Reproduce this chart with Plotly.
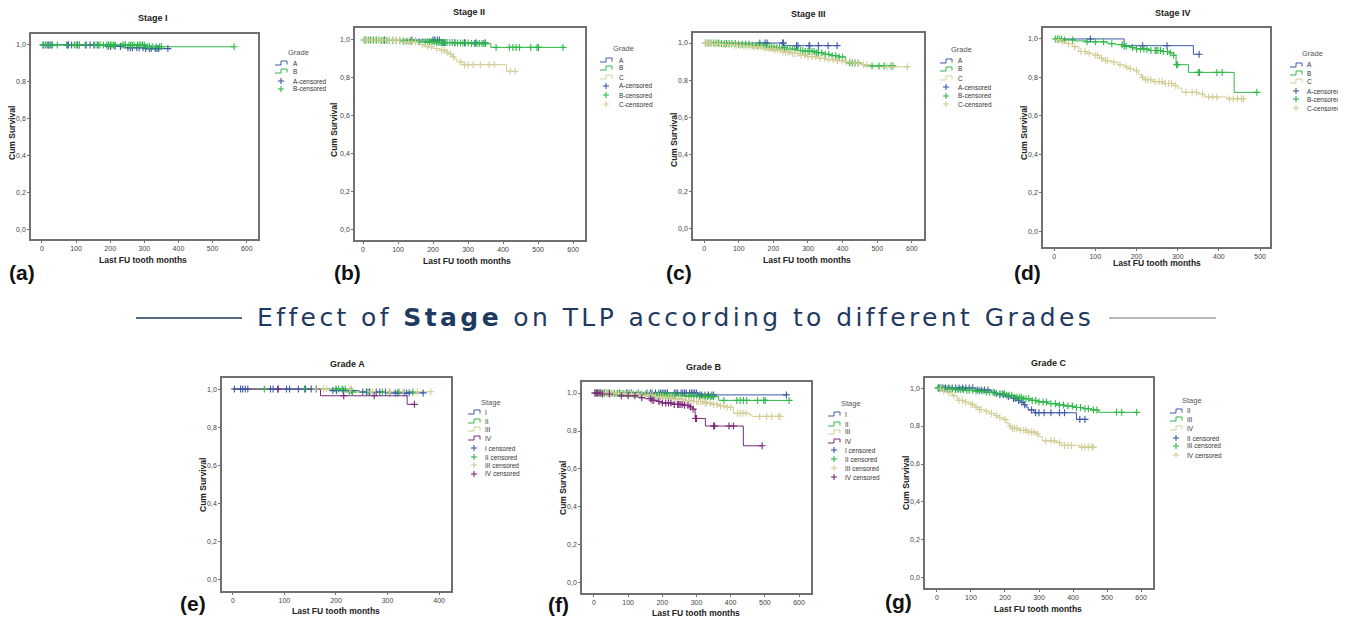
import plotly.graph_objects as go
from bisect import bisect_right

# page is 1346x619; the html body has an 8px margin, so the figure is drawn 8px in
PAGE_W, PAGE_H = 1346, 619
OFF = 8
W, H = PAGE_W - OFF, PAGE_H - OFF

BLUE = "#3E58AC"
GREEN = "#2EB848"
TAN = "#D3CE97"
PURPLE = "#7C287D"

# ---------------- Kaplan-Meier data (months) ----------------
# each curve: event times, survival after each event, last follow-up, censored times
A_I_t = [190, 245, 300]
A_I_s = [0.992, 0.985, 0.980]
A_I_end = 370
A_I_c = [3, 15, 19, 24, 29, 73, 78, 87, 104, 110, 127, 141, 152, 162, 194, 201, 214, 230,
         252, 259, 265, 278, 285, 296, 304, 315, 320, 332, 337, 342, 369]

A_II_t = [225]
A_II_s = [0.985]
A_II_end = 350
A_II_c = [61, 139, 200, 205, 212, 218, 226, 232, 262, 290, 322, 349]

A_III_t = [230]
A_III_s = [0.986]
A_III_end = 385
A_III_c = [161, 176, 182, 227, 229, 267, 271, 303, 305, 330, 358, 384]

A_IV_t = [170, 338]
A_IV_s = [0.965, 0.920]
A_IV_end = 352
A_IV_c = [88, 215, 274, 352]

B_I_t = [305]
B_I_s = [0.990]
B_I_end = 563
B_I_c = [5, 10, 20, 30, 45, 75, 95, 100, 110, 130, 155, 165, 170, 180, 190, 195, 200, 205,
         210, 215, 235, 240, 245, 255, 260, 265, 270, 280, 285, 290, 295, 300, 310, 315,
         325, 335, 345, 350, 563]

B_II_t = [50, 110, 160, 210, 260, 310, 365]
B_II_s = [0.997, 0.994, 0.990, 0.987, 0.984, 0.981, 0.961]
B_II_end = 571
B_II_c = [3, 8, 15, 22, 30, 38, 45, 52, 60, 68, 75, 85, 95, 105, 115, 125, 135, 140, 150,
          160, 170, 178, 185, 190, 195, 200, 205, 210, 215, 220, 225, 230, 235, 240, 248,
          255, 262, 270, 278, 285, 292, 300, 310, 318, 325, 332, 340, 345, 350, 380, 418,
          428, 437, 447, 479, 497, 501, 571]

B_III_t = [50, 100, 140, 180, 210, 240, 265, 290, 320, 345, 365, 390, 408, 455, 462]
B_III_s = [0.998, 0.994, 0.988, 0.980, 0.975, 0.967, 0.960, 0.955, 0.948, 0.940, 0.932,
           0.925, 0.893, 0.885, 0.877]
B_III_end = 545
B_III_c = [5, 12, 20, 28, 35, 42, 50, 58, 65, 72, 80, 90, 100, 110, 120, 130, 140, 150, 158,
           165, 172, 180, 188, 195, 202, 210, 218, 225, 232, 240, 248, 255, 262, 270, 278,
           285, 292, 300, 305, 312, 318, 325, 330, 340, 350, 360, 370, 380, 390, 400, 420,
           428, 436, 445, 485, 505, 520, 540, 545]

B_IV_t = [20, 50, 80, 130, 150, 170, 190, 200, 230, 260, 280, 290, 296, 326, 437]
B_IV_s = [0.995, 0.990, 0.985, 0.975, 0.970, 0.962, 0.955, 0.948, 0.940, 0.935, 0.927,
          0.915, 0.866, 0.826, 0.722]
B_IV_end = 492
B_IV_c = [3, 8, 12, 18, 25, 45, 80, 100, 120, 140, 165, 170, 175, 190, 200, 210, 218, 225,
          235, 245, 248, 252, 258, 265, 275, 282, 290, 297, 300, 350, 353, 395, 408, 492]

C_II_t = [115, 160, 175, 200, 220, 235, 245, 255, 262, 268, 285, 410]
C_II_s = [0.990, 0.975, 0.965, 0.955, 0.945, 0.935, 0.925, 0.912, 0.900, 0.885, 0.870, 0.835]
C_II_end = 435
C_II_c = [5, 10, 18, 25, 35, 45, 55, 65, 75, 85, 95, 105, 120, 130, 140, 150, 170, 185, 195,
          210, 225, 232, 240, 250, 258, 278, 290, 300, 315, 335, 360, 375, 420, 435]

C_III_t = [20, 50, 80, 110, 140, 170, 200, 225, 250, 275, 300, 325, 350, 375, 400, 430, 455, 475]
C_III_s = [0.996, 0.992, 0.988, 0.984, 0.978, 0.970, 0.962, 0.952, 0.944, 0.935, 0.927,
           0.918, 0.911, 0.905, 0.898, 0.891, 0.884, 0.872]
C_III_end = 587
C_III_c = [3, 8, 15, 22, 30, 38, 45, 55, 62, 70, 78, 88, 95, 105, 115, 125, 135, 145, 155,
           165, 175, 185, 192, 198, 205, 212, 220, 228, 235, 242, 248, 255, 262, 270, 280,
           290, 300, 312, 322, 335, 348, 360, 372, 385, 398, 410, 422, 435, 445, 460, 470,
           528, 543, 587]

C_IV_t = [5, 15, 30, 45, 60, 80, 95, 110, 120, 140, 155, 170, 180, 195, 205, 212, 218, 240,
          265, 290, 300, 310, 350, 365, 420]
C_IV_s = [0.995, 0.985, 0.975, 0.960, 0.935, 0.925, 0.915, 0.900, 0.887, 0.878, 0.866,
          0.855, 0.845, 0.835, 0.815, 0.800, 0.788, 0.778, 0.768, 0.758, 0.744, 0.722,
          0.712, 0.698, 0.689]
C_IV_end = 460
C_IV_c = [10, 20, 35, 50, 65, 75, 85, 100, 105, 115, 125, 130, 145, 160, 175, 185, 200, 215,
          222, 228, 235, 245, 255, 262, 270, 278, 285, 295, 320, 335, 345, 360, 375, 385,
          395, 425, 435, 445, 455, 460]

A_I = (A_I_t, A_I_s, A_I_end, A_I_c)
A_II = (A_II_t, A_II_s, A_II_end, A_II_c)
A_III = (A_III_t, A_III_s, A_III_end, A_III_c)
A_IV = (A_IV_t, A_IV_s, A_IV_end, A_IV_c)
B_I = (B_I_t, B_I_s, B_I_end, B_I_c)
B_II = (B_II_t, B_II_s, B_II_end, B_II_c)
B_III = (B_III_t, B_III_s, B_III_end, B_III_c)
B_IV = (B_IV_t, B_IV_s, B_IV_end, B_IV_c)
C_II = (C_II_t, C_II_s, C_II_end, C_II_c)
C_III = (C_III_t, C_III_s, C_III_end, C_III_c)
C_IV = (C_IV_t, C_IV_s, C_IV_end, C_IV_c)

Y_TICKS = [0.0, 0.2, 0.4, 0.6, 0.8, 1.0]
Y_TICK_TEXT = ["0,0", "0,2", "0,4", "0,6", "0,8", "1,0"]
X_TICKS_600 = [0, 100, 200, 300, 400, 500, 600]
X_TICKS_500 = [0, 100, 200, 300, 400, 500]
X_TICKS_400 = [0, 100, 200, 300, 400]

PANELS = [
    dict(title="Stage I", label="(a)", legtitle="Grade",
         curves=[("A", BLUE, A_I), ("B", GREEN, B_I)],
         xticks=X_TICKS_600, frame=(31, 258, 34, 239), xr=(-32, 633), yr=(-0.049, 1.059),
         tpos=(153, 18), ytpos=(12, 133), xtpos=(143, 260), lpos=(22, 272),
         leg=(298, 52, 275, 291, [63, 71, 81, 89])),
    dict(title="Stage II", label="(b)", legtitle="Grade",
         curves=[("A", BLUE, A_II), ("B", GREEN, B_II), ("C", TAN, C_II)],
         xticks=X_TICKS_600, frame=(355, 585, 28, 240), xr=(-23, 634), yr=(-0.053, 1.063),
         tpos=(469, 12), ytpos=(334, 130), xtpos=(467, 261), lpos=(347, 272),
         leg=(623, 48, 600, 617, [60, 68, 77, 86, 95, 104])),
    dict(title="Stage III", label="(c)", legtitle="Grade",
         curves=[("A", BLUE, A_III), ("B", GREEN, B_III), ("C", TAN, C_III)],
         xticks=X_TICKS_600, frame=(693, 924, 33, 239), xr=(-32, 635), yr=(-0.054, 1.054),
         tpos=(809, 14), ytpos=(674, 140), xtpos=(807, 260), lpos=(679, 272),
         leg=(962, 49, 940, 956, [61, 69, 78, 87, 96, 104])),
    dict(title="Stage IV", label="(d)", legtitle="Grade",
         curves=[("A", BLUE, A_IV), ("B", GREEN, B_IV), ("C", TAN, C_IV)],
         xticks=X_TICKS_500, frame=(1043, 1270, 28, 247), xr=(-27, 524), yr=(-0.083, 1.057),
         tpos=(1173, 13), ytpos=(1024, 133), xtpos=(1157, 263), lpos=(1027, 272),
         leg=(1312, 53, 1290, 1305, [65, 73, 81, 91, 99, 108])),
    dict(title="Grade A", label="(e)", legtitle="Stage",
         curves=[("I", BLUE, A_I), ("II", GREEN, A_II), ("III", TAN, A_III), ("IV", PURPLE, A_IV)],
         xticks=X_TICKS_400, frame=(222, 451, 378, 591), xr=(-21, 423), yr=(-0.058, 1.058),
         tpos=(347, 364), ytpos=(203, 485), xtpos=(336, 611), lpos=(193, 603),
         leg=(491, 402, 468, 483, [412, 421, 429, 438, 448, 457, 465, 474])),
    dict(title="Grade B", label="(f)", legtitle="Stage",
         curves=[("I", BLUE, B_I), ("II", GREEN, B_II), ("III", TAN, B_III), ("IV", PURPLE, B_IV)],
         xticks=X_TICKS_600, frame=(582, 811, 382, 593), xr=(-35, 635), yr=(-0.053, 1.058),
         tpos=(704, 367), ytpos=(563, 488), xtpos=(696, 613), lpos=(558, 604),
         leg=(851, 404, 828, 843, [414, 424, 432, 441, 450, 459, 468, 477])),
    dict(title="Grade C", label="(g)", legtitle="Stage",
         curves=[("II", BLUE, C_II), ("III", GREEN, C_III), ("IV", TAN, C_IV)],
         xticks=X_TICKS_600, frame=(925, 1153, 378, 588), xr=(-35, 635), yr=(-0.053, 1.053),
         tpos=(1049, 363), ytpos=(906, 483), xtpos=(1038, 609), lpos=(898, 601),
         leg=(1192, 400, 1170, 1185, [411, 419, 428, 438, 446, 455])),
]


def px(x):
    return (x - OFF) / W


def py(y):
    return 1 - (y - OFF) / H


def surv_at(times, levels, t):
    i = bisect_right(times, t)
    return 1.0 if i == 0 else levels[i - 1]


fig = go.Figure()
shapes = []
annotations = []
TXT = "#333333"
AX = "#707070"
FONT = "Liberation Sans, Arial, sans-serif"

for k, p in enumerate(PANELS, start=1):
    xa = "x" if k == 1 else f"x{k}"
    ya = "y" if k == 1 else f"y{k}"
    l, r, t, b = p["frame"]
    for name, color, (times, levels, end, cens) in p["curves"]:
        xs = [0] + list(times) + [end]
        ys = [1.0] + list(levels) + [levels[-1] if levels else 1.0]
        fig.add_trace(go.Scatter(x=xs, y=ys, mode="lines", line=dict(color=color, width=1, shape="hv"),
                                 xaxis=xa, yaxis=ya, showlegend=False, hoverinfo="skip"))
    for name, color, (times, levels, end, cens) in p["curves"]:
        cy = [surv_at(times, levels, c) for c in cens]
        fig.add_trace(go.Scatter(x=cens, y=cy, mode="markers",
                                 marker=dict(symbol="cross-thin", size=5,
                                             line=dict(color=color, width=1.1)),
                                 xaxis=xa, yaxis=ya, showlegend=False, hoverinfo="skip"))
    axis_common = dict(showgrid=False, zeroline=False, showline=True, linecolor=AX, linewidth=1.5,
                       mirror=True, ticks="outside", ticklen=2, tickcolor=AX, tickwidth=1,
                       tickfont=dict(size=7, color="#444", family=FONT))
    fig.layout[f"xaxis{'' if k == 1 else k}"] = dict(
        domain=[px(l), px(r)], anchor=ya, range=list(p["xr"]), tickvals=p["xticks"],
        ticktext=[str(v) for v in p["xticks"]], **axis_common)
    fig.layout[f"yaxis{'' if k == 1 else k}"] = dict(
        domain=[py(b), py(t)], anchor=xa, range=list(p["yr"]), tickvals=Y_TICKS,
        ticktext=Y_TICK_TEXT, **axis_common)

    # titles
    annotations.append(dict(x=px(p["tpos"][0]), y=py(p["tpos"][1]), text=f"<b>{p['title']}</b>",
                            font=dict(size=9, color="#222", family=FONT)))
    annotations.append(dict(x=px(p["ytpos"][0]), y=py(p["ytpos"][1]), text="<b>Cum Survival</b>",
                            textangle=-90, font=dict(size=8.5, color="#222", family=FONT)))
    annotations.append(dict(x=px(p["xtpos"][0]), y=py(p["xtpos"][1]), text="<b>Last FU tooth months</b>",
                            font=dict(size=8.5, color="#222", family=FONT)))
    annotations.append(dict(x=px(p["lpos"][0]), y=py(p["lpos"][1]), text=f"<b>{p['label']}</b>",
                            font=dict(size=21, color="#111", family=FONT)))

    # legend (manual, SPSS style)
    lcx, lty, ix, tx, rows = p["leg"]
    annotations.append(dict(x=px(lcx), y=py(lty), text=p["legtitle"],
                            font=dict(size=7.5, color="#555", family=FONT)))
    entries = [("line", c, n) for n, c, _ in p["curves"]]
    if p["legtitle"] == "Grade":
        entries += [("cens", c, f"{n}-censored") for n, c, _ in p["curves"]]
    else:
        entries += [("cens", c, f"{n} censored") for n, c, _ in p["curves"]]
    for (kind, color, text), ry in zip(entries, rows):
        if kind == "line":
            path = (f"M {px(ix)},{py(ry + 2)} L {px(ix + 6)},{py(ry + 2)} L {px(ix + 6)},{py(ry - 2)} "
                    f"L {px(ix + 12)},{py(ry - 2)} L {px(ix + 12)},{py(ry + 1.5)}")
            shapes.append(dict(type="path", xref="paper", yref="paper", path=path,
                               line=dict(color=color, width=1)))
        else:
            cx = ix + 6
            shapes.append(dict(type="line", xref="paper", yref="paper", x0=px(cx - 3), x1=px(cx + 3),
                               y0=py(ry), y1=py(ry), line=dict(color=color, width=1.1)))
            shapes.append(dict(type="line", xref="paper", yref="paper", x0=px(cx), x1=px(cx),
                               y0=py(ry - 3), y1=py(ry + 3), line=dict(color=color, width=1.1)))
        annotations.append(dict(x=px(tx), y=py(ry), text=text, xanchor="left",
                                font=dict(size=6.5, color=TXT, family=FONT)))

# central heading with rules
annotations.append(dict(x=px(675), y=py(317),
                        text='<span style="letter-spacing:3.4px">Effect of <b>Stage</b> on TLP '
                             'according to different Grades</span>',
                        font=dict(size=25, color="#1F3A5F", family="DejaVu Sans")))
shapes.append(dict(type="line", xref="paper", yref="paper", x0=px(136), x1=px(242), y0=py(318), y1=py(318),
                   line=dict(color="#1F3A5F", width=1.5)))
shapes.append(dict(type="line", xref="paper", yref="paper", x0=px(1109), x1=px(1216), y0=py(318), y1=py(318),
                   line=dict(color="#9AA3AD", width=1.5)))

for a in annotations:
    a.setdefault("xref", "paper")
    a.setdefault("yref", "paper")
    a.setdefault("showarrow", False)
    a.setdefault("xanchor", "center")
    a.setdefault("yanchor", "middle")

fig.update_layout(width=W, height=H, margin=dict(l=0, r=0, t=0, b=0),
                  paper_bgcolor="white", plot_bgcolor="white",
                  shapes=shapes, annotations=annotations, showlegend=False)

fig.write_html("out.html")
